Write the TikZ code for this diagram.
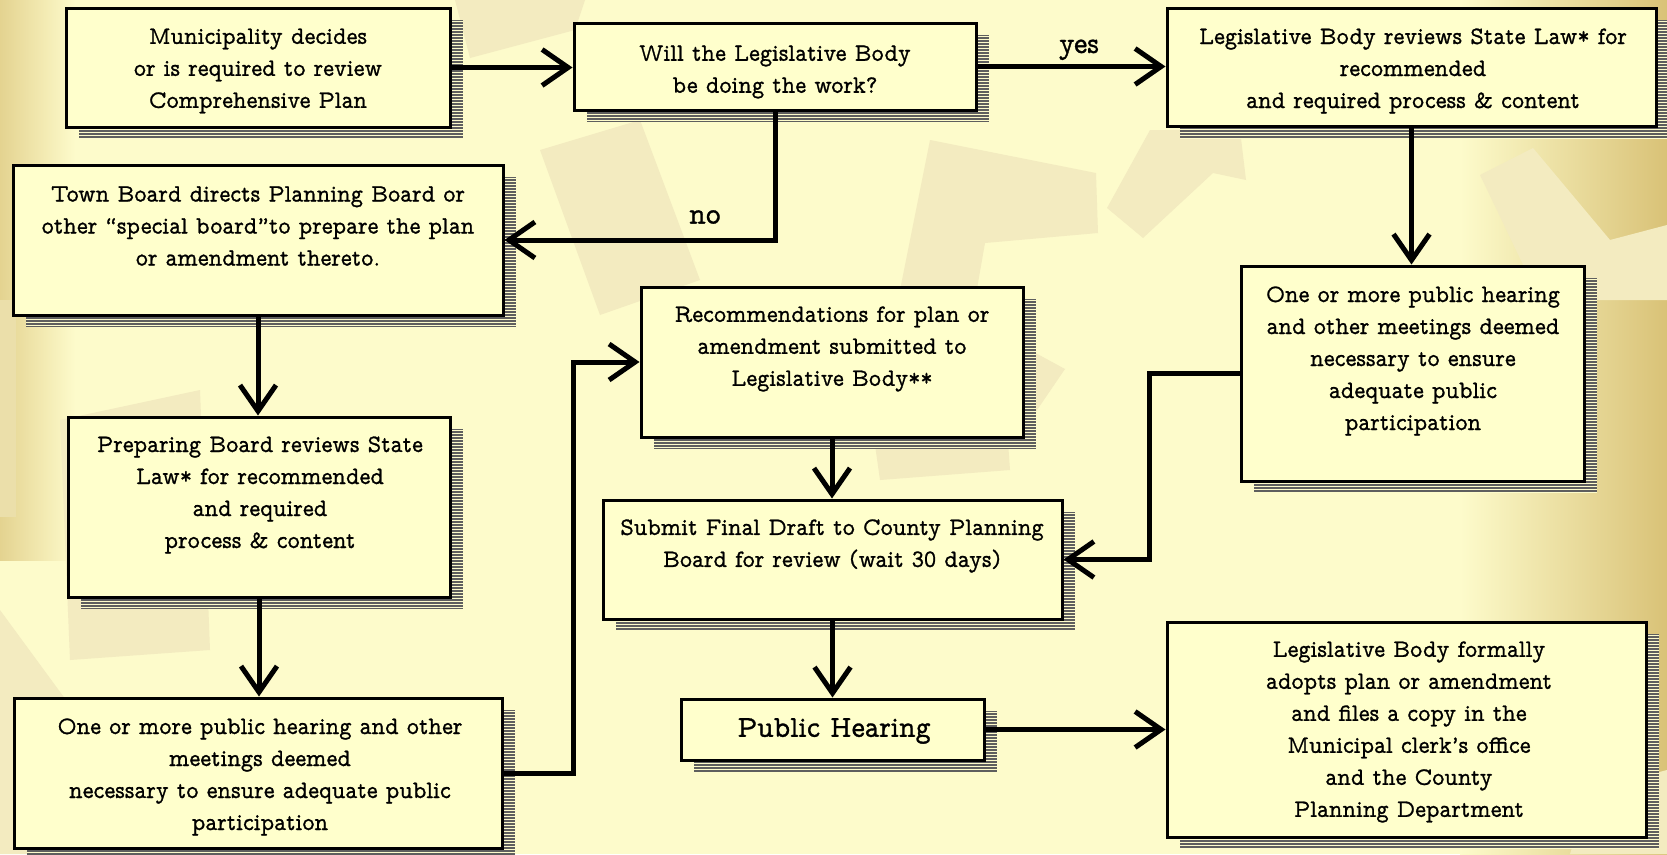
\documentclass[tikz,border=0pt]{standalone}
\usepackage{fontspec}
\usetikzlibrary{arrows.meta,fit}
\newfontfamily\boxfont[FakeStretch=0.93,FakeBold=1.0]{Latin Modern Mono Prop}

\definecolor{bgmain}{HTML}{FDFBCB}
\definecolor{bgshape}{HTML}{F3EBC0}
\definecolor{bgshapedark}{HTML}{EBDFAA}
\definecolor{goldedge}{HTML}{D9C277}
\definecolor{boxfill}{HTML}{FFFFCC}
\definecolor{shadowgray}{HTML}{5E5E5E}

\tikzset{
  flow/.style={draw=black, line width=3pt, fill=boxfill, inner sep=0pt},
  shadowfill/.style={fill=shadowgray},
  shadowgap/.style={draw=bgmain, line width=1pt},
  txt/.style={align=center, inner sep=0pt, font=\boxfont\fontsize{25}{32}\selectfont},
  bigtxt/.style={align=center, inner sep=0pt, font=\boxfont\fontsize{30.5}{36}\selectfont},
  arr/.style={line width=5pt, -{Straight Barb[length=26pt,width=36pt]}},
}

% box with a striped drop shadow: name, x1, y1, x2, y2 (pixel-like units, y downward)
\newcommand\flowbox[5]{%
  \begin{scope}
    \clip (#2+13,#3+12) rectangle (#4+13,#5+12);
    \fill[shadowfill] (#2+13,#3+12) rectangle (#4+13,#5+12);
    \foreach \k in {1.5,4.5,...,240} {\draw[shadowgap] (#2+13,#3+12+\k) -- (#4+13,#3+12+\k);}
  \end{scope}
  \node[flow, fit={(#2,#3) (#4,#5)}] (#1) {};
}

\begin{document}
\begin{tikzpicture}[x=1pt,y=-1pt]
\useasboundingbox (0,0) rectangle (1667,854);

% ---- background ----
\fill[bgmain] (0,0) rectangle (1667,854);
\shade[left color=bgmain, right color=goldedge] (1460,0) rectangle (1667,854);
\shade[left color=goldedge!70!bgmain, right color=bgmain] (0,0) rectangle (75,560);
\fill[bgshapedark] (0,300) rectangle (16,517);
\fill[bgshape] (455,0) -- (585,0) -- (575,30) -- (470,58) -- cycle;
\fill[bgshape] (540,150) -- (640,120) -- (700,280) -- (600,315) -- cycle;
\fill[bgshape] (930,140) -- (1096,173) -- (1098,233) -- (985,243) -- (975,300) -- (900,290) -- cycle;
\fill[bgshape] (1107,208) -- (1143,238) -- (1213,173) -- (1246,180) -- (1240,130) -- (1150,130) -- cycle;
\fill[bgshape] (1030,350) -- (1065,369) -- (1035,413) -- cycle;
\fill[bgshape] (860,340) -- (1000,330) -- (1010,470) -- (880,480) -- cycle;
\fill[bgshape] (60,420) -- (200,390) -- (210,650) -- (70,660) -- cycle;
\fill[bgshape] (0,610) -- (110,760) -- (120,854) -- (0,854) -- cycle;
\fill[bgshape] (1480,175) -- (1533,148) -- (1610,240) -- (1667,225) -- (1667,300) -- (1540,300) -- cycle;
\fill[bgshape] (1590,790) -- (1667,770) -- (1667,854) -- (1570,854) -- cycle;

% ---- boxes ----
\flowbox{b1}{66}{8}{450}{127}
\flowbox{b2}{574}{23}{976}{110}
\flowbox{b3}{1167}{8}{1656}{126}
\flowbox{b4}{13}{165}{503}{315}
\flowbox{b5}{641}{287}{1023}{437}
\flowbox{b6}{1241}{266}{1584}{481}
\flowbox{b7}{68}{417}{450}{597}
\flowbox{b8}{603}{500}{1062}{619}
\flowbox{b9}{681}{699}{984}{760}
\flowbox{b10}{1167}{622}{1646}{837}
\flowbox{b11}{14}{698}{502}{848}

% ---- texts ----
\node[txt] (t1) at (258,71) {Municipality decides\\or is required to review\\Comprehensive Plan};
\node[txt] (t2) at (775,72) {Will the Legislative Body\\be doing the work?};
\node[txt] (t3) at (1413,71) {Legislative Body reviews State Law* for\\recommended\\and required process \& content};
\node[txt] (t4) at (258,226) {Town Board directs Planning Board or\\other “special board”to prepare the plan\\or amendment thereto.};
\node[txt] (t5) at (832,349) {Recommendations for plan or\\amendment submitted to\\Legislative Body**};
\node[txt] (t6) at (1413,361) {One or more public hearing\\and other meetings deemed\\necessary to ensure\\adequate public\\participation};
\node[txt] (t7) at (260,495) {Preparing Board reviews State\\Law* for recommended\\and required\\process \& content};
\node[txt] (t8) at (832,546) {Submit Final Draft to County Planning\\Board for review (wait 30 days)};
\node[bigtxt] (t9) at (834,731) {Public Hearing};
\node[txt] (t10) at (1409,732) {Legislative Body formally\\adopts plan or amendment\\and files a copy in the\\Municipal clerk’s office\\and the County\\Planning Department};
\node[txt] (t11) at (260,777) {One or more public hearing and other\\meetings deemed\\necessary to ensure adequate public\\participation};

% ---- connectors ----
\draw[arr] (b1.east) -- (b1.east -| b2.west);
\draw[arr] (b2.east) -- (b2.east -| b3.west) node[bigtxt, pos=0.54, above=4pt] (yes) {yes};
\draw[arr] (b2.south) -- (b2.south |- b4.east) -- (b4.east);
\node[bigtxt] (no) at (705,217) {no};
\draw[arr] (b3.south) -- (b3.south |- b6.north);
\draw[arr] (b4.south) -- (b4.south |- b7.north);
\draw[arr] (b7.south) -- (b7.south |- b11.north);
\draw[arr] (b11.east) -- ++(70,0) |- (b5.west);
\draw[arr] (b5.south) -- (b5.south |- b8.north);
\draw[arr] (b6.west) -- ++(-90,0) |- (b8.east);
\draw[arr] (b8.south) -- (b8.south |- b9.north);
\draw[arr] (b9.east) -- (b9.east -| b10.west);
\end{tikzpicture}
\end{document}
